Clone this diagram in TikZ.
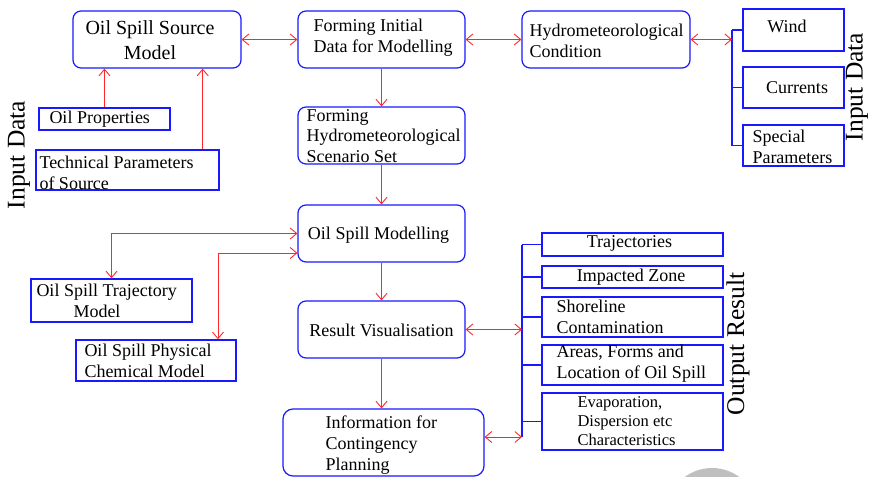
\documentclass[tikz,border=0pt]{standalone}
\usepackage{fontspec}
\setmainfont{Liberation Serif}
\usetikzlibrary{arrows.meta}
\definecolor{lred}{RGB}{255,40,40}
\definecolor{lblue}{RGB}{25,25,255}
\begin{document}
\begin{tikzpicture}[x=1pt,y=-1pt,
  rbox/.style={draw=lblue, line width=1.2pt, rounded corners=8pt, inner sep=0pt},
  sbox/.style={draw=lblue, line width=1.4pt, inner sep=0pt},
  txt/.style={inner sep=0pt, font=\fontsize{18}{20.7}\selectfont},
  ltxt/.style={txt, align=left, anchor=west},
  vtxt/.style={inner sep=0pt, rotate=90, font=\fontsize{25.5}{28}\selectfont},
  rarr/.style={draw=lred, line width=0.9pt, -{Straight Barb[length=6.5pt,width=11pt]}},
  rdbl/.style={draw=lred, line width=0.9pt, {Straight Barb[length=6.5pt,width=11pt]}-{Straight Barb[length=6.5pt,width=11pt]}},
  bus/.style={draw=lblue, line width=1.2pt}
]
\useasboundingbox (0,0) rectangle (871,477);
\begin{scope}
\clip (0,0) rectangle (871,477);
\fill[gray!50] (712,514) circle (46);
\end{scope}

% main column boxes
\node[rbox, minimum width=168, minimum height=57] (src) at (157,39.5) {};
\node[rbox, minimum width=167, minimum height=57] (fi) at (381.5,39.5) {};
\node[rbox, minimum width=168, minimum height=57] (hy) at (606,39.5) {};
\node[rbox, minimum width=167, minimum height=57] (sc) at (381.5,135.5) {};
\node[rbox, minimum width=167, minimum height=57] (mod) at (381.5,233.5) {};
\node[rbox, minimum width=167, minimum height=57] (rv) at (381.5,329.5) {};
\node[rbox, rounded corners=10pt, minimum width=201, minimum height=67] (info) at (383.5,442.5) {};

% input boxes left
\node[sbox, minimum width=131, minimum height=22] (op) at (104.5,119) {};
\node[sbox, minimum width=183, minimum height=40] (tp) at (127.5,170) {};
\node[sbox, minimum width=161, minimum height=43] (tm) at (111.5,300.5) {};
\node[sbox, minimum width=160, minimum height=41] (pc) at (156,360.5) {};

% input boxes right
\node[sbox, minimum width=101, minimum height=42] (wind) at (793.5,30) {};
\node[sbox, minimum width=101, minimum height=41] (cur) at (793.5,87.5) {};
\node[sbox, minimum width=101, minimum height=41] (sp) at (793.5,145.5) {};

% output boxes
\node[sbox, minimum width=181, minimum height=23] (o1) at (632.5,244.5) {};
\node[sbox, minimum width=181, minimum height=22] (o2) at (632.5,277) {};
\node[sbox, minimum width=181, minimum height=40] (o3) at (632.5,317) {};
\node[sbox, minimum width=181, minimum height=40] (o4) at (632.5,365) {};
\node[sbox, minimum width=181, minimum height=57] (o5) at (632.5,421.5) {};

% texts
\node[txt, align=center, font=\fontsize{20}{25}\selectfont] (srct) at ([xshift=-7pt,yshift=-1pt]src.center) {Oil Spill Source\\Model};
\node[ltxt] (fit) at ([xshift=16pt,yshift=2pt]fi.west) {Forming Initial\\Data for Modelling};
\node[ltxt] (hyt) at ([xshift=8pt,yshift=-1pt]hy.west) {Hydrometeorological\\Condition};
\node[ltxt] (sct) at ([xshift=9pt,yshift=-0.5pt]sc.west) {Forming\\Hydrometeorological\\Scenario Set};
\node[txt] (modt) at ([xshift=-3pt,yshift=-2pt]mod.center) {Oil Spill Modelling};
\node[txt] (rvt) at ([yshift=-1pt]rv.center) {Result Visualisation};
\node[ltxt] (infot) at ([xshift=43pt,yshift=-2.5pt]info.west) {Information for\\Contingency\\Planning};
\node[ltxt] (opt) at ([xshift=11pt]op.west) {Oil Properties};
\node[ltxt] (tpt) at ([xshift=4pt,yshift=-2.5pt]tp.west) {Technical Parameters\\of Source};
\node[ltxt] (tmt) at ([xshift=6pt]tm.west) {Oil Spill Trajectory\\\hspace*{37pt}Model};
\node[ltxt] (pct) at ([xshift=9pt]pc.west) {Oil Spill Physical\\Chemical Model};
\node[txt] (windt) at ([xshift=-6.5pt,yshift=4pt]wind.center) {Wind};
\node[txt] (curt) at ([xshift=3.5pt]cur.center) {Currents};
\node[ltxt] (spt) at ([xshift=10pt,yshift=-1pt]sp.west) {Special\\Parameters};
\node[txt] (o1t) at ([xshift=-3pt,yshift=1pt]o1.center) {Trajectories};
\node[txt] (o2t) at ([xshift=-1.5pt]o2.center) {Impacted Zone};
\node[ltxt] (o3t) at ([xshift=15pt,yshift=0.5pt]o3.west) {Shoreline\\Contamination};
\node[ltxt] (o4t) at ([xshift=15pt,yshift=1.5pt]o4.west) {Areas, Forms and\\Location of Oil Spill};
\node[ltxt, font=\fontsize{16.5}{19}\selectfont] (o5t) at ([xshift=36pt]o5.west) {Evaporation,\\Dispersion etc\\Characteristics};

% vertical labels
\node[vtxt] (inl) at (19,155) {Input Data};
\node[vtxt] (inr) at (857,87) {Input Data};
\node[vtxt] (outr) at (738,344) {Output Result};

% bus coordinates
\coordinate (wb) at (732,30);
\coordinate (wbb) at (732,145.5);
\coordinate (ob) at (522,244.5);
\coordinate (obb) at (522,437);
\draw[bus] (wb) -- (wbb);
\draw[bus] (wind.west) -- (wind.west -| wb);
\draw[bus] (cur.west) -- (cur.west -| wb);
\draw[bus] (sp.west) -- (sp.west -| wb);
\draw[bus] (ob) -- (obb);
\foreach \b in {o1,o2,o3,o4,o5} \draw[bus] (\b.west) -- (\b.west -| ob);

% connection points
\coordinate (tpa) at ([xshift=-17pt]tp.north east);
\coordinate (ma) at ([yshift=-19.5pt]mod.west);
\coordinate (pca) at ([xshift=62pt]pc.north);
\coordinate (ia) at ([yshift=5.5pt]info.east);

% red connectors
\draw[rarr] (op.north) -- (op.north |- src.south);
\draw[rarr] (tpa) -- (tpa |- src.south);
\draw[rdbl] (src.east) -- (fi.west);
\draw[rdbl] (fi.east) -- (hy.west);
\draw[rdbl] (hy.east) -- (hy.east -| wb);
\draw[rarr] (fi.south) -- (sc.north);
\draw[rarr] (sc.south) -- (mod.north);
\draw[rdbl] (mod.west) -| (tm.north);
\draw[rdbl] (ma) -| (pca);
\draw[rarr] (mod.south) -- (rv.north);
\draw[rarr] (rv.south) -- (rv.south |- info.north);
\draw[rdbl] (rv.east) -- (rv.east -| ob);
\draw[rdbl] (ia) -- (ia -| ob);
\end{tikzpicture}
\end{document}
